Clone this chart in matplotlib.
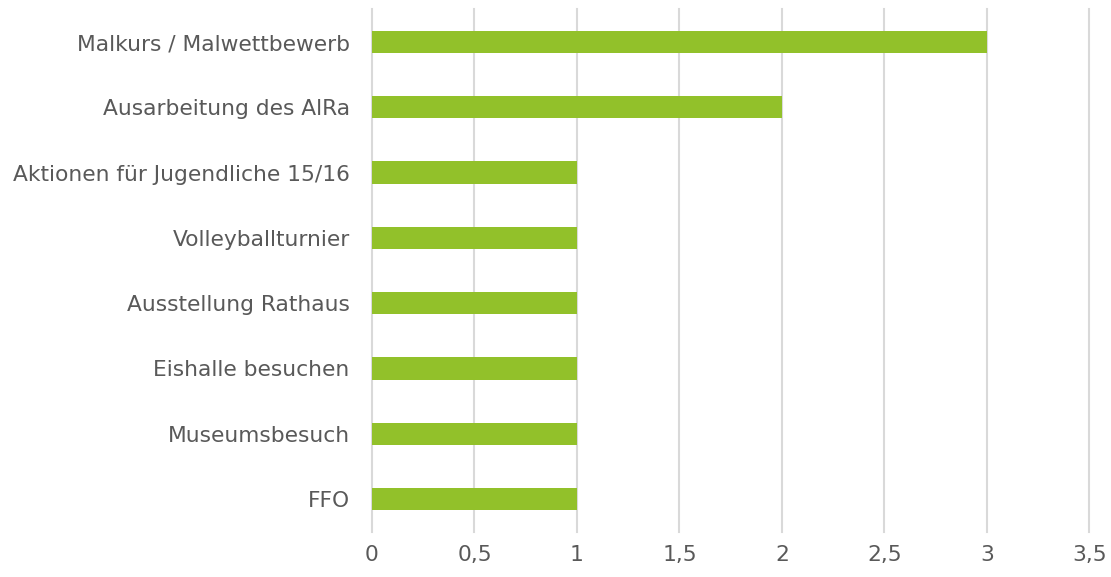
import matplotlib
matplotlib.use("Agg")
import matplotlib.pyplot as plt
from matplotlib.ticker import FuncFormatter

categories = ["Malkurs / Malwettbewerb", "Ausarbeitung des AlRa",
              "Aktionen für Jugendliche 15/16", "Volleyballturnier",
              "Ausstellung Rathaus", "Eishalle besuchen", "Museumsbesuch", "FFO"]
values = [3, 2, 1, 1, 1, 1, 1, 1]
xticks = [0, 0.5, 1, 1.5, 2, 2.5, 3, 3.5]

plt.rcParams['font.family'] = ['DejaVu Sans']
text_color = '#595959'

fig = plt.figure(figsize=(11.11, 5.77), dpi=100)
ax = fig.add_axes([0.3348, 0.0787, 0.6458, 0.905])

pos = list(range(len(categories)))
ax.barh(pos, values, height=0.34, color='#92C12A', zorder=3)
ax.set_yticks(pos)
ax.set_yticklabels(categories)
ax.set_ylim(len(categories) - 0.5, -0.5)
ax.set_xlim(0, 3.5)
ax.set_xticks(xticks)
ax.xaxis.set_major_formatter(FuncFormatter(lambda v, p: ('%g' % v).replace('.', ',')))
ax.grid(axis='x', color='#D9D9D9', linewidth=1.5, zorder=0)
for gl in ax.get_xgridlines():
    gl.set_clip_on(False)
for s in ax.spines.values():
    s.set_visible(False)
ax.tick_params(axis='both', length=0, labelsize=15.7, colors=text_color)
ax.tick_params(axis='y', pad=16)
ax.tick_params(axis='x', pad=10)

fig.savefig('out.png', dpi=100)
